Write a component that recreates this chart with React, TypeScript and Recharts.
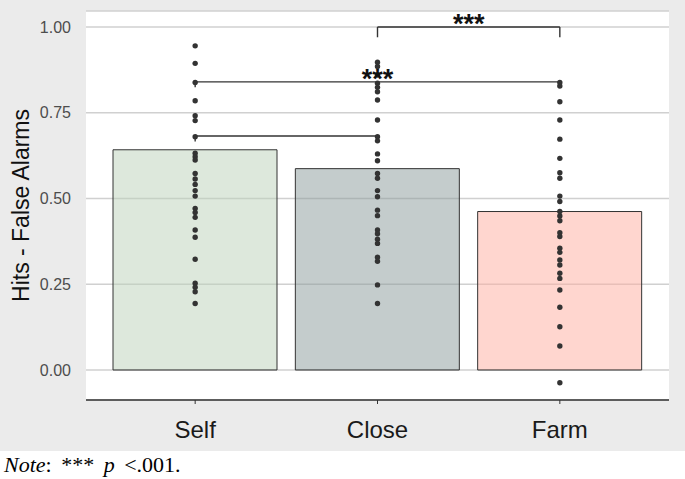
import {
  Bar,
  CartesianGrid,
  Cell,
  ComposedChart,
  ReferenceLine,
  Scatter,
  XAxis,
  YAxis,
} from "recharts";

const categories = ["Self", "Close", "Farm"];
const meanScores = [0.642, 0.587, 0.462];
const barFills = ["#bbd1b9", "#899999", "#ffad9f"];

const selfScores = [
  0.945, 0.894, 0.838, 0.785, 0.741, 0.727, 0.68, 0.632, 0.622, 0.612, 0.573, 0.557, 0.541,
  0.523, 0.507, 0.471, 0.459, 0.445, 0.408, 0.387, 0.323, 0.253, 0.241, 0.228, 0.194,
];
const closeScores = [
  0.897, 0.885, 0.86, 0.836, 0.824, 0.811, 0.787, 0.729, 0.68, 0.668, 0.63, 0.61, 0.573, 0.559,
  0.523, 0.505, 0.466, 0.45, 0.408, 0.397, 0.381, 0.369, 0.329, 0.317, 0.248, 0.194,
];
const farmScores = [
  0.838, 0.828, 0.782, 0.729, 0.673, 0.617, 0.575, 0.559, 0.507, 0.491, 0.462, 0.449, 0.435,
  0.4, 0.389, 0.355, 0.343, 0.321, 0.306, 0.282, 0.267, 0.233, 0.183, 0.126, 0.07, -0.037,
];

const yTicks = [0, 0.25, 0.5, 0.75, 1];

// significance brackets: [from, to, height, tip length, label]
const brackets: [string, string, number, number, string][] = [
  ["Self", "Close", 0.682, 0.016, ""],
  ["Self", "Farm", 0.84, 0.016, "***"],
  ["Close", "Farm", 1.0, 0.03, "***"],
];

const barData = categories.map((name, i) => ({ name, value: meanScores[i] }));
const dotData = [
  ...selfScores.map((value) => ({ name: "Self", value })),
  ...closeScores.map((value) => ({ name: "Close", value })),
  ...farmScores.map((value) => ({ name: "Farm", value })),
];

const lineColor = "#333333";

const YLabel = (props: any) => {
  const vb = props.viewBox || { x: 0, y: 11, height: 389 };
  const x = vb.x + 21;
  const y = vb.y + vb.height / 2;
  return (
    <text
      x={x}
      y={y}
      transform={`rotate(-90 ${x} ${y})`}
      textAnchor="middle"
      dominantBaseline="central"
      fontSize={23}
      fill="#111"
      fontFamily="'Liberation Sans', Arial, sans-serif"
    >
      Hits - False Alarms
    </text>
  );
};

export default function App() {
  return (
    <div
      style={{
        position: "absolute",
        left: 0,
        top: 0,
        width: 685,
        height: 479,
        background: "#fff",
        fontFamily: "'Liberation Sans', Arial, sans-serif",
      }}
    >
      <div style={{ width: 685, height: 451, background: "#ebebeb" }}>
        <ComposedChart
          width={685}
          height={451}
          data={barData}
          barCategoryGap="5%"
          margin={{ top: 11, right: 16, bottom: 0, left: 0 }}
        >
          <CartesianGrid
            vertical={false}
            stroke="#d0d0d0"
            strokeWidth={1.3}
            fill="#ffffff"
            fillOpacity={1}
          />
          <XAxis
            dataKey="name"
            type="category"
            allowDuplicatedCategory={false}
            padding={{ left: 18, right: 18 }}
            height={51}
            axisLine={{ stroke: lineColor, strokeWidth: 1.3 }}
            tickLine={{ stroke: lineColor }}
            tickSize={4}
            tickMargin={17}
            tick={{ fontSize: 24, fill: "#1a1a1a" }}
          />
          <YAxis
            type="number"
            width={86}
            domain={[-0.0875, 1.0466]}
            ticks={yTicks}
            allowDataOverflow
            axisLine={false}
            tickLine={false}
            tickSize={0}
            tickMargin={15}
            tickFormatter={(v: number) => v.toFixed(2)}
            tick={{ fontSize: 16, fill: "#4d4d4d" }}
            label={(p: any) => <YLabel {...p} />}
          />
          <Bar
            dataKey="value"
            barSize={164}
            stroke={lineColor}
            strokeWidth={1}
            fillOpacity={0.5}
            isAnimationActive={false}
          >
            {barData.map((d, i) => (
              <Cell key={d.name} fill={barFills[i]} />
            ))}
          </Bar>
          {brackets.map(([a, b, h, tip, lab]) => (
            <ReferenceLine
              key={`h-${a}-${b}`}
              segment={[
                { x: a, y: h },
                { x: b, y: h },
              ]}
              stroke={lineColor}
              strokeWidth={1.4}
              label={
                lab
                  ? {
                      value: lab,
                      position: "top",
                      offset: -6,
                      fontSize: 27,
                      fontWeight: "bold",
                      fill: "#111",
                    }
                  : undefined
              }
            />
          ))}
          {brackets.map(([a, b, h, tip]) => (
            <ReferenceLine
              key={`l-${a}-${b}`}
              segment={[
                { x: a, y: h },
                { x: a, y: h - tip },
              ]}
              stroke={lineColor}
              strokeWidth={1.4}
            />
          ))}
          {brackets.map(([a, b, h, tip]) => (
            <ReferenceLine
              key={`r-${a}-${b}`}
              segment={[
                { x: b, y: h },
                { x: b, y: h - tip },
              ]}
              stroke={lineColor}
              strokeWidth={1.4}
            />
          ))}
          <Scatter
            data={dotData}
            dataKey="value"
            isAnimationActive={false}
            shape={(p: any) => <circle cx={p.cx} cy={p.cy} r={2.7} fill="#333" />}
          />
        </ComposedChart>
      </div>
      <div
        style={{
          fontFamily: "'Liberation Serif', 'Times New Roman', serif",
          fontSize: 22,
          lineHeight: "28px",
          paddingLeft: 4,
          wordSpacing: 4,
          color: "#000",
        }}
      >
        <i>Note</i>: *** <i>p</i> &lt;.001.
      </div>
    </div>
  );
}
